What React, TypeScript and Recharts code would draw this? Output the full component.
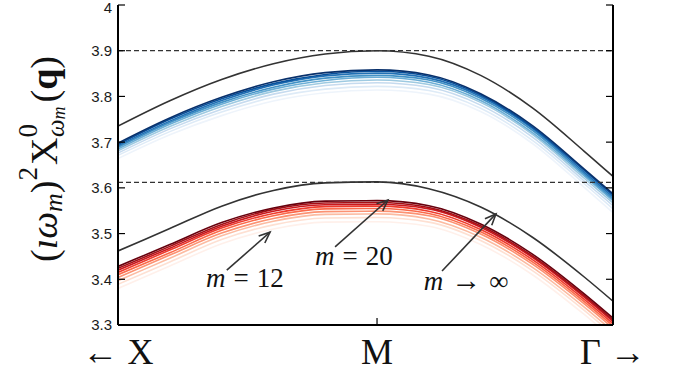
import React from 'react';
import { LineChart, Line, XAxis, YAxis, ReferenceLine, ReferenceDot } from 'recharts';

// path coordinate: 0 = left edge (towards X), 1 = M, 1.911 = right edge (towards Γ)
const pathK = [0, 0.2, 0.4, 0.6, 0.8, 1.0, 1.2, 1.4, 1.6, 1.8, 1.911];
const xTicks = [0, 1, 1.911];
const xTickLabels = ['← X', 'M', 'Γ →'];
const yTicks = [3.3, 3.4, 3.5, 3.6, 3.7, 3.8, 3.9, 4];
const mValues = [12, 13, 14, 15, 16, 17, 18, 19, 20];
const dashedLevels = [3.9, 3.612];

// m -> infinity curves
const upperInf = [3.735, 3.7905, 3.837, 3.8715, 3.8928, 3.9, 3.888, 3.846, 3.775, 3.68, 3.625];
const lowerInf = [3.462, 3.511, 3.56, 3.5944, 3.611, 3.613, 3.598, 3.558, 3.492, 3.405, 3.352];

// upper (blue) band, m = 12 ... 20
const blue12 = [3.664, 3.716, 3.758, 3.79, 3.808, 3.814, 3.805, 3.767, 3.697, 3.601, 3.546];
const blue13 = [3.671, 3.723, 3.766, 3.798, 3.816, 3.822, 3.813, 3.774, 3.704, 3.609, 3.554];
const blue14 = [3.676, 3.729, 3.772, 3.805, 3.824, 3.83, 3.82, 3.781, 3.711, 3.615, 3.561];
const blue15 = [3.681, 3.734, 3.778, 3.811, 3.83, 3.836, 3.826, 3.787, 3.717, 3.621, 3.567];
const blue16 = [3.685, 3.739, 3.783, 3.816, 3.835, 3.842, 3.831, 3.791, 3.721, 3.626, 3.572];
const blue17 = [3.689, 3.743, 3.787, 3.82, 3.84, 3.846, 3.836, 3.796, 3.726, 3.63, 3.576];
const blue18 = [3.692, 3.746, 3.791, 3.825, 3.845, 3.851, 3.84, 3.8, 3.73, 3.634, 3.58];
const blue19 = [3.695, 3.75, 3.795, 3.828, 3.848, 3.855, 3.844, 3.803, 3.733, 3.638, 3.584];
const blue20 = [3.698, 3.753, 3.798, 3.832, 3.852, 3.858, 3.847, 3.806, 3.736, 3.641, 3.587];

// lower (red) band, m = 12 ... 20
const red12 = [3.38, 3.429, 3.478, 3.51, 3.525, 3.526, 3.516, 3.476, 3.41, 3.323, 3.27];
const red13 = [3.389, 3.438, 3.487, 3.519, 3.534, 3.535, 3.525, 3.485, 3.419, 3.332, 3.279];
const red14 = [3.397, 3.446, 3.495, 3.527, 3.542, 3.543, 3.532, 3.492, 3.426, 3.339, 3.286];
const red15 = [3.404, 3.453, 3.501, 3.533, 3.548, 3.549, 3.539, 3.499, 3.433, 3.346, 3.293];
const red16 = [3.41, 3.458, 3.507, 3.539, 3.554, 3.555, 3.544, 3.504, 3.438, 3.351, 3.298];
const red17 = [3.415, 3.464, 3.512, 3.544, 3.559, 3.56, 3.549, 3.509, 3.443, 3.356, 3.303];
const red18 = [3.42, 3.468, 3.516, 3.549, 3.563, 3.564, 3.554, 3.514, 3.448, 3.361, 3.308];
const red19 = [3.424, 3.472, 3.52, 3.553, 3.567, 3.568, 3.557, 3.517, 3.451, 3.364, 3.311];
const red20 = [3.428, 3.476, 3.524, 3.556, 3.571, 3.572, 3.561, 3.521, 3.455, 3.368, 3.315];

const blueSeries = [blue12, blue13, blue14, blue15, blue16, blue17, blue18, blue19, blue20];
const redSeries = [red12, red13, red14, red15, red16, red17, red18, red19, red20];

const blueColors = ['#eef4fb', '#deebf7', '#c6dbef', '#9ecae1', '#6baed6', '#4292c6', '#2171b5', '#08519c', '#08306b'];
const redColors = ['#fff0ea', '#fee0d2', '#fcbba1', '#fc9272', '#fb6a4a', '#ef3b2c', '#cb181d', '#a50f15', '#67000d'];

// annotations (data coordinates)
const annotLabels = [
  { rel: '=', val: '12' },
  { rel: '=', val: '20' },
  { rel: '→', val: '∞' },
];
const annotTextX = [0.49, 0.911, 1.344];
const annotTextY = [3.383, 3.431, 3.377];
const arrowTail = [
  { x: 0.42, y: 3.42 },
  { x: 0.838, y: 3.471 },
  { x: 1.251, y: 3.418 },
];
const arrowHead = [
  { x: 0.587, y: 3.503 },
  { x: 1.042, y: 3.5734 },
  { x: 1.459, y: 3.543 },
];

const data = pathK.map((k, i) => {
  const row: Record<string, number> = { k, upperInf: upperInf[i], lowerInf: lowerInf[i] };
  mValues.forEach((m, j) => {
    row['b' + m] = blueSeries[j][i];
    row['r' + m] = redSeries[j][i];
  });
  return row;
});

const SANS = "'Liberation Sans', Arial, Helvetica, sans-serif";
const SERIF = "'Liberation Serif', 'DejaVu Serif', 'Times New Roman', serif";
const TICK_MARGIN = 6;
const TICK_LEN = 7;
const INK = '#1a1a1a';

function LeftTick(props: any) {
  const { x, y, payload } = props;
  const label = String(Number(Number(payload.value).toFixed(1)));
  const ty = Math.max(y, 8);
  return (
    <g>
      <text x={x} y={ty} dy="0.36em" textAnchor="end" fontFamily={SANS} fontSize={15} fill={INK}>
        {label}
      </text>
      <line x1={x + TICK_MARGIN} x2={x + TICK_MARGIN + TICK_LEN} y1={y} y2={y} stroke="#000" strokeWidth={1.2} />
    </g>
  );
}

function RightTick(props: any) {
  const { x, y } = props;
  return <line x1={x - TICK_LEN} x2={x} y1={y} y2={y} stroke="#000" strokeWidth={1.2} />;
}

function BottomTick(props: any) {
  const { x, y, payload, index } = props;
  const label = xTickLabels[index] ?? '';
  const inner = payload.value > 0 && payload.value < xTicks[xTicks.length - 1];
  return (
    <g>
      {inner && <line x1={x} x2={x} y1={y - TICK_LEN} y2={y} stroke="#000" strokeWidth={1.2} />}
      <text x={x} y={y + 39} textAnchor="middle" fontFamily={SERIF} fontSize={36} fill="#111">
        {label}
      </text>
    </g>
  );
}

function TopTick(props: any) {
  const { x, y } = props;
  return <line x1={x} x2={x} y1={y} y2={y + TICK_LEN} stroke="#000" strokeWidth={1.2} />;
}

function YLabel(props: any) {
  const vb = props.viewBox || { x: 0, y: 0, width: 118, height: 320 };
  const cx = vb.x + 44;
  const cy = vb.y + vb.height / 2 - 6;
  return (
    <text
      x={cx}
      y={cy}
      textAnchor="middle"
      transform={`rotate(-90 ${cx} ${cy})`}
      fontFamily={SERIF}
      fontSize={38}
      fill="#111"
      dominantBaseline="central"
    >
      <tspan>(</tspan>
      <tspan fontStyle="italic">ıω</tspan>
      <tspan fontStyle="italic" fontSize={26} dy={9}>m</tspan>
      <tspan dy={-9}>)</tspan>
      <tspan fontSize={27} dy={-16}>2</tspan>
      <tspan dx={2} dy={16}>X</tspan>
      <tspan fontSize={27} dy={-16}>0</tspan>
      <tspan fontStyle="italic" fontSize={25} dx={-13} dy={27}>ω</tspan>
      <tspan fontStyle="italic" fontSize={18} dy={4}>m</tspan>
      <tspan dx={4} dy={-15}>(</tspan>
      <tspan fontWeight="bold">q</tspan>
      <tspan>)</tspan>
    </text>
  );
}

function arrowShape(props: any) {
  const { x1, y1, x2, y2 } = props;
  const ang = Math.atan2(y2 - y1, x2 - x1);
  const L = 12;
  const a = 0.4;
  const p1x = x2 - L * Math.cos(ang - a);
  const p1y = y2 - L * Math.sin(ang - a);
  const p2x = x2 - L * Math.cos(ang + a);
  const p2y = y2 - L * Math.sin(ang + a);
  return (
    <g>
      <line x1={x1} y1={y1} x2={x2} y2={y2} stroke="#333" strokeWidth={1.6} />
      <polyline
        points={`${p1x},${p1y} ${x2},${y2} ${p2x},${p2y}`}
        fill="none"
        stroke="#333"
        strokeWidth={1.6}
      />
    </g>
  );
}

function makeLabelShape(i: number) {
  return (props: any) => (
    <text x={props.cx} y={props.cy} textAnchor="middle" fontFamily={SERIF} fontSize={27} fill="#111">
      <tspan fontStyle="italic">m</tspan>
      <tspan dx={8} fontSize={i === 2 ? 30 : 27}>{annotLabels[i].rel}</tspan>
      <tspan dx={8}>{annotLabels[i].val}</tspan>
    </text>
  );
}

export default function App() {
  return (
    <div style={{ position: 'absolute', left: 0, top: 0, width: 683, height: 371, background: '#fff' }}>
      <LineChart width={683} height={371} data={data} margin={{ top: 5, right: 0, bottom: 0, left: 0 }}>
        <XAxis
          xAxisId="bottom"
          dataKey="k"
          type="number"
          domain={[0, 1.911]}
          ticks={xTicks}
          interval={0}
          height={46}
          tickSize={0}
          tickMargin={0}
          tickLine={false}
          tick={<BottomTick />}
          axisLine={{ stroke: '#000', strokeWidth: 2 }}
          allowDataOverflow
        />
        <XAxis
          xAxisId="top"
          orientation="top"
          dataKey="k"
          type="number"
          domain={[0, 1.911]}
          ticks={[1]}
          interval={0}
          height={0}
          tickSize={0}
          tickMargin={0}
          tickLine={false}
          tick={<TopTick />}
          axisLine={{ stroke: '#000', strokeWidth: 2 }}
          allowDataOverflow
        />
        <YAxis
          yAxisId="left"
          type="number"
          domain={[3.3, 4]}
          ticks={yTicks}
          interval={0}
          width={118}
          tickSize={0}
          tickMargin={TICK_MARGIN}
          tickLine={false}
          tick={<LeftTick />}
          axisLine={{ stroke: '#000', strokeWidth: 2 }}
          allowDataOverflow
          label={{ content: <YLabel /> }}
        />
        <YAxis
          yAxisId="right"
          orientation="right"
          type="number"
          domain={[3.3, 4]}
          ticks={yTicks}
          interval={0}
          width={70}
          tickSize={0}
          tickMargin={0}
          tickLine={false}
          tick={<RightTick />}
          axisLine={{ stroke: '#000', strokeWidth: 2 }}
          allowDataOverflow
        />

        {mValues.map((m, j) => (
          <Line
            key={'b' + m}
            xAxisId="bottom"
            yAxisId="left"
            type="monotone"
            dataKey={'b' + m}
            stroke={blueColors[j]}
            strokeWidth={1.6}
            dot={false}
            isAnimationActive={false}
          />
        ))}
        {mValues.map((m, j) => (
          <Line
            key={'r' + m}
            xAxisId="bottom"
            yAxisId="left"
            type="monotone"
            dataKey={'r' + m}
            stroke={redColors[j]}
            strokeWidth={1.6}
            dot={false}
            isAnimationActive={false}
          />
        ))}
        <Line
          xAxisId="bottom"
          yAxisId="left"
          type="monotone"
          dataKey="upperInf"
          stroke="#333"
          strokeWidth={1.6}
          dot={false}
          isAnimationActive={false}
        />
        <Line
          xAxisId="bottom"
          yAxisId="left"
          type="monotone"
          dataKey="lowerInf"
          stroke="#333"
          strokeWidth={1.6}
          dot={false}
          isAnimationActive={false}
        />

        {dashedLevels.map((v) => (
          <ReferenceLine
            key={'d' + v}
            xAxisId="bottom"
            yAxisId="left"
            y={v}
            stroke="#333"
            strokeWidth={1.3}
            strokeDasharray="5 3"
          />
        ))}

        {arrowTail.map((t, i) => (
          <ReferenceLine
            key={'a' + i}
            xAxisId="bottom"
            yAxisId="left"
            segment={[t, arrowHead[i]]}
            shape={arrowShape}
          />
        ))}
        {annotTextX.map((x, i) => (
          <ReferenceDot
            key={'t' + i}
            xAxisId="bottom"
            yAxisId="left"
            x={x}
            y={annotTextY[i]}
            r={0}
            shape={makeLabelShape(i)}
          />
        ))}
      </LineChart>
    </div>
  );
}
